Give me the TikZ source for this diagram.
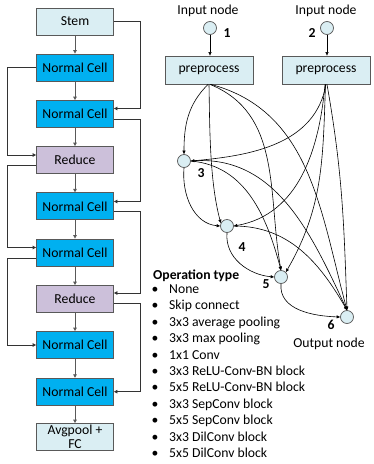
\documentclass[tikz,border=0pt]{standalone}
\usepackage{fontspec}
\setmainfont{Carlito}
\usetikzlibrary{arrows.meta}
\definecolor{lightb}{HTML}{DAEEF3}
\definecolor{cellb}{HTML}{00B0F0}
\definecolor{redc}{HTML}{CCC0DA}
\definecolor{edgeg}{HTML}{595959}
\begin{document}
\begin{tikzpicture}[x=1pt,y=1pt,
  font=\fontsize{13.7}{15}\selectfont,
  box/.style={draw=edgeg, line width=0.8pt, minimum width=77pt, minimum height=27pt, inner sep=1pt, align=center},
  stembox/.style={box, fill=lightb},
  cellbox/.style={box, fill=cellb},
  redbox/.style={box, fill=redc},
  prebox/.style={draw=edgeg, line width=0.8pt, fill=lightb, minimum width=88pt, minimum height=28pt, inner sep=1pt},
  dnode/.style={circle, draw=edgeg, line width=0.7pt, fill=lightb, minimum size=13pt, inner sep=0pt},
  varr/.style={draw=edgeg, line width=0.9pt, -{Triangle[length=3.5pt,width=3.5pt]}},
  sarr/.style={draw=black!80, line width=0.8pt, -{Triangle[length=3.5pt,width=3.5pt]}},
  e/.style={draw=black, line width=0.6pt, -{Triangle[length=3.5pt,width=3pt]}},
  num/.style={font=\fontsize{13.7}{15}\selectfont\bfseries},
  item/.style={anchor=base west, inner sep=0pt},
  bul/.style={anchor=base, inner sep=0pt}
]
\useasboundingbox (0,0) rectangle (373,-464);

% left column
\node[stembox] (stem) at (75,-21.5) {Stem};
\node[cellbox] (nc1) at (75,-67.5) {Normal Cell};
\node[cellbox] (nc2) at (75,-114) {Normal Cell};
\node[redbox]  (red1) at (75,-160) {Reduce};
\node[cellbox] (nc3) at (75,-206.3) {Normal Cell};
\node[cellbox] (nc4) at (75,-252.5) {Normal Cell};
\node[redbox]  (red2) at (75,-299) {Reduce};
\node[cellbox] (nc5) at (75,-345) {Normal Cell};
\node[cellbox] (nc6) at (75,-391.7) {Normal Cell};
\node[stembox, font=\fontsize{13.7}{14}\selectfont] (avg) at (75,-437) {Avgpool +\\FC};

\draw[varr] (stem) -- (nc1);
\draw[varr] (nc1) -- (nc2);
\draw[varr] (nc2) -- (red1);
\draw[varr] (red1) -- (nc3);
\draw[varr] (nc3) -- (nc4);
\draw[varr] (nc4) -- (red2);
\draw[varr] (red2) -- (nc5);
\draw[varr] (nc5) -- (nc6);
\draw[varr] (nc6) -- (avg);

% left skip lines
\draw[sarr] (nc1.west) -- ++(-28.5,0) |- ([yshift=5pt]red1.west);
\draw[sarr] ([yshift=-5pt]red1.west) -- ++(-28.5,0) |- ([yshift=5pt]nc4.west);
\draw[sarr] ([yshift=-5.5pt]nc4.west) -- ++(-28.5,0) |- (nc5.west);
% right skip lines
\draw[sarr] (stem.east) -- ++(26.5,0) |- ([yshift=5.5pt]nc2.east);
\draw[sarr] ([yshift=-5pt]nc2.east) -- ++(26.5,0) |- ([yshift=4.8pt]nc3.east);
\draw[sarr] ([yshift=-5.3pt]nc3.east) -- ++(26.5,0) |- ([yshift=6pt]red2.east);
\draw[sarr] ([yshift=-4pt]red2.east) -- ++(26.5,0) |- (nc6.east);

% cell DAG
\node (in1) at (208,-11) {Input node};
\node (in2) at (326,-11) {Input node};
\node[dnode] (c1) at (210,-28) {};
\node[dnode] (c2) at (327,-28) {};
\node[num] (l1) at (227,-33) {1};
\node[num] (l2) at (312,-33) {2};
\node[prebox] (pre1) at (209,-70) {preprocess};
\node[prebox] (pre2) at (326,-70) {preprocess};
\draw[e] (c1.south) -- (c1.south |- pre1.north);
\draw[e] (c2.south) -- (c2.south |- pre2.north);

\node[dnode] (n3) at (184,-161) {};
\node[dnode] (n4) at (227,-226) {};
\node[dnode] (n5) at (281,-277) {};
\node[dnode] (n6) at (347,-317) {};
\node[num] (l3) at (201,-173) {3};
\node[num] (l4) at (242,-247) {4};
\node[num] (l5) at (266,-284) {5};
\node[num] (l6) at (331,-325) {6};
\node (outn) at (329,-344) {Output node};

% edges from preprocess 1
\draw[e] ([xshift=-1pt]pre1.south) to[out=-135, in=90] (n3.north);
\draw[e] (pre1.south) to[out=-89, in=105, looseness=0.8] (n4.155);
\draw[e] ([xshift=1pt]pre1.south) to[out=-22, in=100] (n5.north);
\draw[e] ([xshift=2pt]pre1.south) to[out=-15, in=105] (n6.north);
% edges from preprocess 2
\draw[e] (pre2.south) to[out=-100, in=5] (n3.east);
\draw[e] ([xshift=-1pt]pre2.south) to[out=-95, in=10] (n4.east);
\draw[e] ([xshift=-0.5pt]pre2.south) to[out=-92, in=60] (n5.north east);
\draw[e] ([xshift=1pt]pre2.south) to[out=-80, in=92] (n6.north);
% intermediate edges
\draw[e] (n3.south) to[out=-95, in=175] (n4.west);
\draw[e] (n3.east) to[out=-5, in=105] (n5.north);
\draw[e] (n3.east) to[out=5, in=115] (n6.north);
\draw[e] (n4.south) to[out=-95, in=175] (n5.west);
\draw[e] (n4.east) to[out=0, in=120] (n6.north);
\draw[e] (n5.south) to[out=-95, in=178] (n6.west);

% legend
\node[item, font=\fontsize{13.7}{15}\selectfont\bfseries] (optitle) at (153,-279) {Operation type};
\foreach \t [count=\i from 0] in {None, Skip connect, 3x3 average pooling, 3x3 max pooling, 1x1 Conv, 3x3 ReLU-Conv-BN block, 5x5 ReLU-Conv-BN block, 3x3 SepConv block, 5x5 SepConv block, 3x3 DilConv block, 5x5 DilConv block}{
  \node[bul] (b\i) at (155,{-293.5-16.4*\i}) {\textbullet};
  \node[item] (op\i) at (169,{-293.5-16.4*\i}) {\t};
}
\end{tikzpicture}
\end{document}
